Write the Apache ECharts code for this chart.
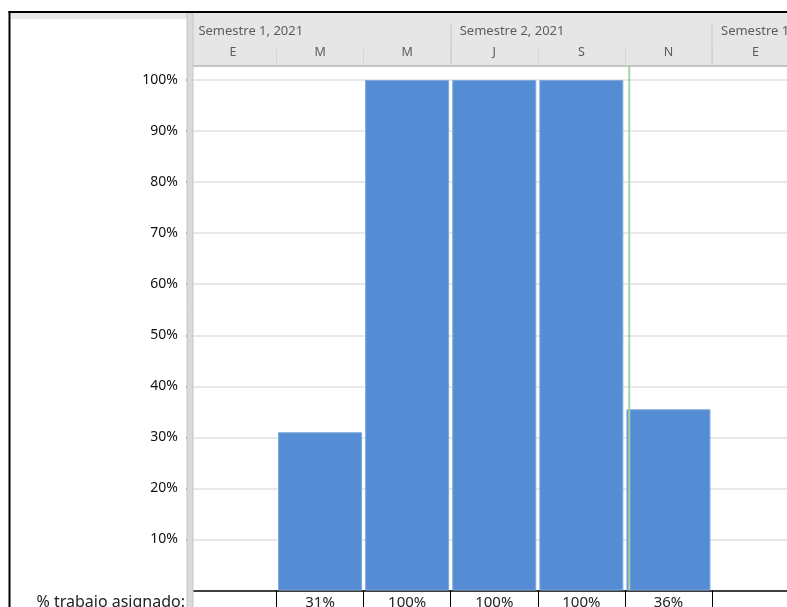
<!DOCTYPE html>
<html>
<head>
<meta charset="utf-8">
<script src="https://cdn.jsdelivr.net/npm/echarts@6/dist/echarts.min.js"></script>
<style>
  html, body { margin: 0; padding: 0; background: #fff; }
  #chart { width: 787px; height: 607px; }
</style>
</head>
<body>
<div id="chart"></div>
<script>
// columnas bimestrales del diagrama de recursos
var months = ['E', 'M', 'M', 'J', 'S', 'N', 'E'];
var assigned = [null, 31, 100, 100, 100, 35.5, null];
var semesters = ['Semestre 1, 2021', 'Semestre 2, 2021', 'Semestre 1, 2022'];
var semesterStarts = [0, 3, 6];
var yTicks = [10, 20, 30, 40, 50, 60, 70, 80, 90, 100];
var statusDate = 5.05; // linea de fecha de estado, en unidades de columna
var rowLabel = '% trabajo asignado:';

var myChart = echarts.init(document.getElementById('chart'));

var font = "'Noto Sans', sans-serif";
var barColor = '#548dd4';

var option = {
    animation: false,
    textStyle: { fontFamily: font },
    grid: { left: 189.4, right: -12.1, top: 80, bottom: 16.5, outerBoundsMode: 'none', containLabel: false },
    xAxis: [{
        type: 'category',
        position: 'bottom',
        data: months,
        axisLine: { lineStyle: { color: '#000', width: 1.5 } },
        axisTick: { show: true, interval: 0, length: 22, lineStyle: { color: '#000', width: 1 } },
        axisLabel: {
            interval: 0, margin: 5, fontSize: 15, color: '#222',
            formatter: function (v, i) {
                return assigned[i] == null ? '' : Math.round(assigned[i]) + '%';
            }
        },
        splitLine: { show: false }
    }, {
        type: 'category',
        position: 'top',
        offset: 14.5,
        data: months,
        axisLine: { lineStyle: { color: '#c4c4c4', width: 2 } },
        axisTick: { show: true, interval: 0, length: 17, lineStyle: { color: '#d6d6d6', width: 1 } },
        axisLabel: { interval: 0, margin: 7, fontSize: 12.5, color: '#5c5c5c' },
        splitLine: { show: false }
    }, {
        type: 'value',
        position: 'top',
        offset: 14.5,
        min: 0,
        max: 7,
        interval: 1,
        axisLine: { show: false },
        axisTick: { show: true, customValues: semesterStarts, length: 41, lineStyle: { color: '#cfcfcf', width: 1.5 } },
        axisLabel: {
            customValues: semesterStarts, margin: 28, fontSize: 13, color: '#5c5c5c',
            align: 'left', padding: [0, 0, 0, 9],
            formatter: function (v) { return semesters[semesterStarts.indexOf(v)]; }
        },
        splitLine: { show: false }
    }],
    yAxis: {
        type: 'value',
        min: 0,
        max: 100,
        interval: 10,
        offset: 3.4,
        axisLine: { show: false },
        axisTick: { show: true, customValues: yTicks, length: 3, lineStyle: { color: '#222', width: 1.5 } },
        axisLabel: {
            customValues: yTicks, margin: 8, fontSize: 14, color: '#111',
            formatter: '{value}%'
        },
        splitLine: { lineStyle: { color: '#e0e0e0', width: 1.5 } }
    },
    series: [{
        type: 'bar',
        xAxisIndex: 0,
        barWidth: 84,
        itemStyle: { color: barColor, borderColor: '#7ea8dc', borderWidth: 1 },
        data: assigned
    }]
};

myChart.setOption(option);

var statusX = myChart.convertToPixel({ xAxisIndex: 2 }, statusDate);

myChart.setOption({
    graphic: [
        // fondo del encabezado
        { type: 'rect', z: -1, shape: { x: 193, y: 13, width: 600, height: 52 }, style: { fill: '#e6e6e6' } },
        // panel izquierdo
        { type: 'rect', z: 50, shape: { x: 11, y: 13, width: 176, height: 6 }, style: { fill: '#e8e8e8' } },
        { type: 'rect', z: 50, shape: { x: 187, y: 13, width: 6, height: 600 }, style: { fill: '#dadada', stroke: '#c6c6c6', lineWidth: 1 } },
        // borde negro
        { type: 'rect', z: 60, shape: { x: 8.5, y: 11, width: 790, height: 2 }, style: { fill: '#000' } },
        { type: 'rect', z: 60, shape: { x: 8.5, y: 11, width: 2, height: 600 }, style: { fill: '#000' } },
        // linea de fecha de estado
        { type: 'line', z: 40, shape: { x1: statusX, y1: 66, x2: statusX, y2: 590 }, style: { stroke: '#a3d3a3', lineWidth: 2 } },
        {
            type: 'text', z: 50, x: 185, y: 594,
            style: { text: rowLabel, fontSize: 16, fontFamily: font, fill: '#222', align: 'right', verticalAlign: 'top' }
        }
    ]
});
</script>
</body>
</html>
